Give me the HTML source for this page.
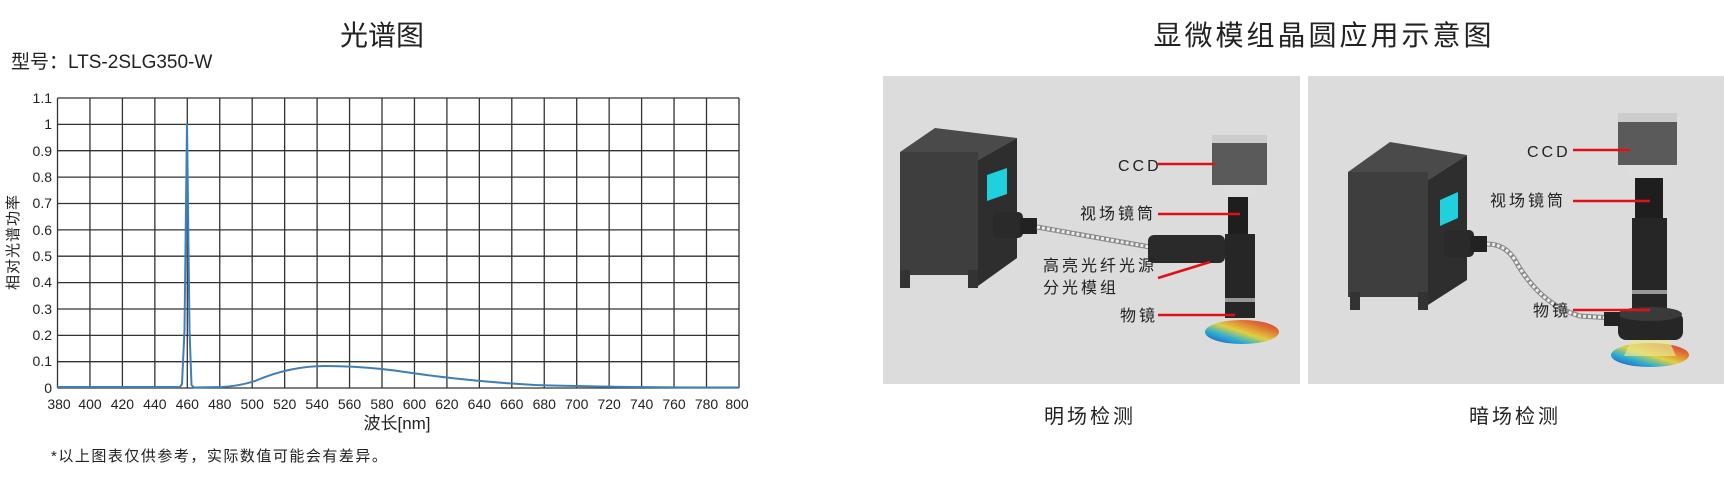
<!DOCTYPE html>
<html><head><meta charset="utf-8">
<style>
html,body{margin:0;padding:0;background:#fff;}
body{width:1724px;height:481px;position:relative;overflow:hidden;font-family:"Liberation Sans","Noto Sans CJK SC",sans-serif;color:#222;}
</style></head><body>
<svg width="1724" height="481" style="position:absolute;left:0;top:0" xmlns="http://www.w3.org/2000/svg" font-family="Liberation Sans, Noto Sans CJK SC, sans-serif">
<text x="382" y="45" font-size="28" text-anchor="middle" fill="#222">光谱图</text>
<text x="1324" y="45" font-size="28" text-anchor="middle" fill="#222" letter-spacing="3">显微模组晶圆应用示意图</text>
<text x="11" y="68" font-size="19" fill="#222">型号：LTS-2SLG350-W</text>
<g stroke="#333" stroke-width="1.3">
<line x1="57.5" y1="98" x2="739" y2="98"/>
<line x1="57.5" y1="124.4" x2="739" y2="124.4"/>
<line x1="57.5" y1="150.7" x2="739" y2="150.7"/>
<line x1="57.5" y1="177.1" x2="739" y2="177.1"/>
<line x1="57.5" y1="203.5" x2="739" y2="203.5"/>
<line x1="57.5" y1="229.9" x2="739" y2="229.9"/>
<line x1="57.5" y1="256.2" x2="739" y2="256.2"/>
<line x1="57.5" y1="282.6" x2="739" y2="282.6"/>
<line x1="57.5" y1="309" x2="739" y2="309"/>
<line x1="57.5" y1="335.4" x2="739" y2="335.4"/>
<line x1="57.5" y1="361.7" x2="739" y2="361.7"/>
<line x1="57.5" y1="388" x2="739" y2="388"/>
<line x1="57.5" y1="98" x2="57.5" y2="388"/>
<line x1="89.95" y1="98" x2="89.95" y2="388"/>
<line x1="122.4" y1="98" x2="122.4" y2="388"/>
<line x1="154.85" y1="98" x2="154.85" y2="388"/>
<line x1="187.3" y1="98" x2="187.3" y2="388"/>
<line x1="219.75" y1="98" x2="219.75" y2="388"/>
<line x1="252.2" y1="98" x2="252.2" y2="388"/>
<line x1="284.65" y1="98" x2="284.65" y2="388"/>
<line x1="317.1" y1="98" x2="317.1" y2="388"/>
<line x1="349.55" y1="98" x2="349.55" y2="388"/>
<line x1="382" y1="98" x2="382" y2="388"/>
<line x1="414.45" y1="98" x2="414.45" y2="388"/>
<line x1="446.9" y1="98" x2="446.9" y2="388"/>
<line x1="479.35" y1="98" x2="479.35" y2="388"/>
<line x1="511.8" y1="98" x2="511.8" y2="388"/>
<line x1="544.25" y1="98" x2="544.25" y2="388"/>
<line x1="576.7" y1="98" x2="576.7" y2="388"/>
<line x1="609.15" y1="98" x2="609.15" y2="388"/>
<line x1="641.6" y1="98" x2="641.6" y2="388"/>
<line x1="674.05" y1="98" x2="674.05" y2="388"/>
<line x1="706.5" y1="98" x2="706.5" y2="388"/>
<line x1="739" y1="98" x2="739" y2="388"/>
</g>
<g font-size="14" fill="#222" text-anchor="end">
<text x="52" y="103">1.1</text><text x="52" y="129">1</text><text x="52" y="156">0.9</text>
<text x="52" y="182">0.8</text><text x="52" y="208">0.7</text><text x="52" y="235">0.6</text>
<text x="52" y="261">0.5</text><text x="52" y="287">0.4</text><text x="52" y="314">0.3</text>
<text x="52" y="340">0.2</text><text x="52" y="366">0.1</text><text x="52" y="393">0</text>
</g>
<g font-size="14" fill="#222" text-anchor="middle">
<text x="59" y="409">380</text><text x="90" y="409">400</text><text x="122.4" y="409">420</text>
<text x="154.85" y="409">440</text><text x="187.3" y="409">460</text><text x="219.75" y="409">480</text>
<text x="252.2" y="409">500</text><text x="284.65" y="409">520</text><text x="317.1" y="409">540</text>
<text x="349.55" y="409">560</text><text x="382" y="409">580</text><text x="414.45" y="409">600</text>
<text x="446.9" y="409">620</text><text x="479.35" y="409">640</text><text x="511.8" y="409">660</text>
<text x="544.25" y="409">680</text><text x="576.7" y="409">700</text><text x="609.15" y="409">720</text>
<text x="641.6" y="409">740</text><text x="674.05" y="409">760</text><text x="706.5" y="409">780</text>
<text x="737" y="409">800</text>
</g>
<text x="397" y="429" font-size="17" text-anchor="middle" fill="#222">波长[nm]</text>
<text transform="translate(18,242) rotate(-90)" font-size="15" text-anchor="middle" fill="#222" letter-spacing="1">相对光谱功率</text>
<text x="51" y="461" font-size="15" fill="#222" letter-spacing="1.5">*以上图表仅供参考，实际数值可能会有差异。</text>
<path d="M57.5 387 L180 387 L182 384 L184.5 330 L187 124 L189.5 330 L191.5 385 L194 387.5 L222 387 Q240 386 255 381 Q290 366 325 366 Q365 366 405 372 Q465 381 535 385 Q615 387.5 739 387.5" fill="none" stroke="#3e7fb8" stroke-width="2"/>

<rect x="883" y="76" width="417" height="308" fill="#dcdcdc"/>
<rect x="1308" y="76" width="416" height="308" fill="#dcdcdc"/>
<defs>
<linearGradient id="waf" x1="0" y1="1" x2="1" y2="0">
<stop offset="0" stop-color="#2040c0"/><stop offset="0.3" stop-color="#30b0d0"/><stop offset="0.5" stop-color="#e0d040"/><stop offset="0.75" stop-color="#e07030"/><stop offset="1" stop-color="#c03050"/>
</linearGradient>
</defs>
<polygon points="900,152 935,128 1017,138 978,160" fill="#4a4a4a"/>
<polygon points="978,160 1017,138 1017,258 978,286" fill="#2e2e2e"/>
<rect x="900" y="152" width="78" height="123" fill="#3e3e3e"/>
<rect x="900" y="270" width="10" height="18" fill="#333"/><rect x="968" y="270" width="10" height="18" fill="#333"/>
<polygon points="987,175 1007,168 1007,194 987,201" fill="#20d0dc"/>
<rect x="993" y="212" width="30" height="26" rx="5" fill="#2a2a2a"/>
<rect x="1020" y="218" width="17" height="16" fill="#222"/>
<line x1="1037" y1="227" x2="1150" y2="247" stroke="#888" stroke-width="5"/>
<line x1="1037" y1="227" x2="1150" y2="247" stroke="#eee" stroke-width="3" stroke-dasharray="3 2"/>
<rect x="1148" y="235" width="77" height="28" rx="6" fill="#2a2a2a"/>
<rect x="1228" y="196" width="20" height="40" fill="#1e1e1e"/>
<rect x="1225" y="234" width="30" height="84" fill="#262626"/>
<rect x="1225" y="298" width="30" height="4" fill="#999"/>
<rect x="1218" y="185" width="44" height="12" fill="#ddd"/>
<rect x="1212" y="135" width="55" height="50" fill="#5a5a5a"/>
<rect x="1212" y="135" width="55" height="8" fill="#ccc"/>
<ellipse cx="1242" cy="332" rx="37" ry="12" fill="url(#waf)"/>
<g stroke="#e0101a" stroke-width="2.5">
<line x1="1158" y1="164" x2="1215" y2="164"/>
<line x1="1158" y1="214" x2="1240" y2="214"/>
<line x1="1158" y1="278" x2="1210" y2="262"/>
<line x1="1158" y1="315" x2="1235" y2="315"/>
</g>
<g font-size="16" fill="#222" letter-spacing="3">
<text x="1118" y="171">CCD</text>
<text x="1080" y="219">视场镜筒</text>
<text x="1043" y="271">高亮光纤光源</text>
<text x="1043" y="293">分光模组</text>
<text x="1120" y="321">物镜</text>
</g>
<polygon points="1348,172 1390,142 1467,155 1428,180" fill="#4a4a4a"/>
<polygon points="1428,180 1467,155 1467,280 1428,305" fill="#2e2e2e"/>
<rect x="1348" y="172" width="80" height="125" fill="#3e3e3e"/>
<rect x="1350" y="292" width="10" height="18" fill="#333"/><rect x="1418" y="292" width="10" height="18" fill="#333"/>
<polygon points="1440,200 1458,192 1458,218 1440,226" fill="#20d0dc"/>
<rect x="1444" y="230" width="30" height="27" rx="5" fill="#2a2a2a"/>
<rect x="1470" y="236" width="17" height="16" fill="#222"/>
<path d="M1487 244 Q1505 244 1515 260 Q1540 305 1580 316 L1612 318" fill="none" stroke="#888" stroke-width="5"/>
<path d="M1487 244 Q1505 244 1515 260 Q1540 305 1580 316 L1612 318" fill="none" stroke="#eee" stroke-width="3" stroke-dasharray="3 2"/>
<rect x="1635" y="178" width="28" height="42" fill="#1e1e1e"/>
<rect x="1632" y="218" width="35" height="90" fill="#262626"/>
<rect x="1632" y="290" width="35" height="4" fill="#999"/>
<rect x="1628" y="165" width="42" height="13" fill="#ddd"/>
<rect x="1618" y="113" width="59" height="52" fill="#5a5a5a"/>
<rect x="1618" y="113" width="59" height="9" fill="#ccc"/>
<ellipse cx="1650" cy="355" rx="39" ry="12" fill="url(#waf)"/>
<polygon points="1632,338 1668,338 1676,356 1624,356" fill="#e8e890" opacity="0.7"/>
<rect x="1618" y="312" width="65" height="28" rx="8" fill="#262626"/>
<ellipse cx="1650" cy="314" rx="32" ry="7" fill="#3a3a3a"/>
<rect x="1604" y="312" width="16" height="14" fill="#222"/>
<g stroke="#e0101a" stroke-width="2.5">
<line x1="1573" y1="150" x2="1630" y2="150"/>
<line x1="1573" y1="201" x2="1650" y2="201"/>
<line x1="1573" y1="310" x2="1650" y2="310"/>
</g>
<g font-size="16" fill="#222" letter-spacing="3">
<text x="1527" y="157">CCD</text>
<text x="1490" y="206">视场镜筒</text>
<text x="1533" y="316">物镜</text>
</g>
<g font-size="20" fill="#222" text-anchor="middle" letter-spacing="3">
<text x="1090" y="423">明场检测</text>
<text x="1515" y="423">暗场检测</text>
</g>
</svg>
</body></html>
